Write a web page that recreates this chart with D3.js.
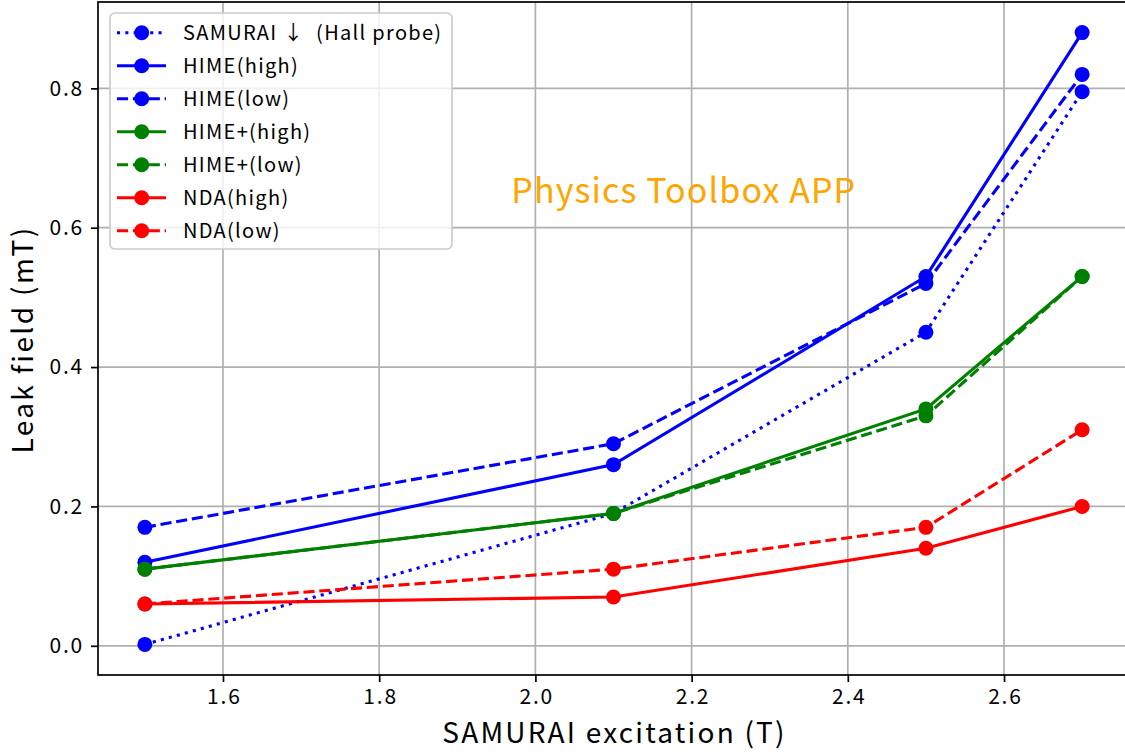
<!DOCTYPE html>
<html>
<head>
<meta charset="utf-8">
<script src="https://cdn.jsdelivr.net/npm/d3@7"></script>
<style>
  body { margin: 0; background: #fff; }
  svg { display: block; }
  text { font-family: "Noto Sans CJK JP", "Noto Sans", sans-serif; }
</style>
</head>
<body>
<div id="chart"></div>
<script>
// excitation values (T)
var excitation = [1.5, 2.1, 2.5, 2.7]

// leak field (mT) per series
var samuraiHall = [0.002, 0.19, 0.45, 0.795]
var himeHigh = [0.12, 0.26, 0.53, 0.88]
var himeLow = [0.17, 0.29, 0.52, 0.82]
var himePlusHigh = [0.11, 0.19, 0.34, 0.53]
var himePlusLow = [0.11, 0.19, 0.33, 0.53]
var ndaHigh = [0.06, 0.07, 0.14, 0.20]
var ndaLow = [0.06, 0.11, 0.17, 0.31]

var seriesNames = ["SAMURAI ↓  (Hall probe)", "HIME(high)", "HIME(low)", "HIME+(high)", "HIME+(low)", "NDA(high)", "NDA(low)"]
var seriesValues = [samuraiHall, himeHigh, himeLow, himePlusHigh, himePlusLow, ndaHigh, ndaLow]
var seriesColors = ["#0000ff", "#0000ff", "#0000ff", "#008000", "#008000", "#ff0000", "#ff0000"]
var seriesStyles = ["dotted", "solid", "dashed", "solid", "dashed", "solid", "dashed"]

var xTicks = [1.6, 1.8, 2.0, 2.2, 2.4, 2.6]
var yTicks = [0.0, 0.2, 0.4, 0.6, 0.8]

var W = 1125, H = 754
var margin = {left: 98, right: -4, top: 2, bottom: 79}

var svg = d3.select('#chart').append('svg')
  .attr('width', W).attr('height', H)

var pw = W - margin.left - margin.right
var ph = H - margin.top - margin.bottom

// matplotlib-like 5% margins
var xScale = d3.scaleLinear().domain([1.44, 2.76]).range([margin.left, margin.left + pw])
var yScale = d3.scaleLinear().domain([-0.0419, 0.9239]).range([margin.top + ph, margin.top])

var dashes = {solid: null, dashed: "11.1,4.8", dotted: "3.1,5.2"}

// grid
var grid = svg.append('g')
grid.selectAll('.gx').data(xTicks).enter().append('line')
  .attr('x1', d => xScale(d)).attr('x2', d => xScale(d))
  .attr('y1', margin.top).attr('y2', margin.top + ph)
  .attr('stroke', '#b0b0b0').attr('stroke-width', 1.7)
grid.selectAll('.gy').data(yTicks).enter().append('line')
  .attr('y1', d => yScale(d)).attr('y2', d => yScale(d))
  .attr('x1', margin.left).attr('x2', margin.left + pw)
  .attr('stroke', '#b0b0b0').attr('stroke-width', 1.7)

// lines + markers
var line = d3.line().x(d => xScale(d[0])).y(d => yScale(d[1]))
seriesValues.forEach(function(vals, i) {
  var pts = excitation.map((x, k) => [x, vals[k]])
  svg.append('path').datum(pts)
    .attr('d', line)
    .attr('fill', 'none')
    .attr('stroke', seriesColors[i])
    .attr('stroke-width', 3.1)
    .attr('stroke-dasharray', dashes[seriesStyles[i]])
  svg.append('g').selectAll('circle').data(pts).enter().append('circle')
    .attr('cx', d => xScale(d[0])).attr('cy', d => yScale(d[1]))
    .attr('r', 7.5).attr('fill', seriesColors[i])
})

// axes
var xAxis = d3.axisBottom(xScale).tickValues(xTicks).tickFormat(d3.format('.1f')).tickSizeOuter(0).tickSize(7).tickPadding(7)
var yAxis = d3.axisLeft(yScale).tickValues(yTicks).tickFormat(d3.format('.1f')).tickSizeOuter(0).tickSize(7).tickPadding(7)

var gx = svg.append('g').attr('transform', 'translate(0,' + (margin.top + ph) + ')').call(xAxis)
var gy = svg.append('g').attr('transform', 'translate(' + margin.left + ',0)').call(yAxis)
;[gx, gy].forEach(function(g) {
  g.select('.domain').remove()
  g.selectAll('line').attr('stroke', '#000').attr('stroke-width', 1.7)
  g.selectAll('text').attr('font-size', 21).attr('fill', '#000')
    .attr('letter-spacing', 1.8)
    .style('font-family', '"Noto Sans CJK JP", sans-serif')
})
gx.selectAll('text').attr('dx', 0.9)

// spines
svg.append('rect')
  .attr('x', margin.left).attr('y', margin.top).attr('width', pw).attr('height', ph)
  .attr('fill', 'none').attr('stroke', '#000').attr('stroke-width', 1.7)

// axis labels
svg.append('text').text('SAMURAI excitation (T)')
  .attr('x', margin.left + pw / 2 + 1).attr('y', 743)
  .attr('text-anchor', 'middle').attr('font-size', 28).attr('letter-spacing', 2.2)
svg.append('text').text('Leak field (mT)')
  .attr('transform', 'translate(33,' + (margin.top + ph / 2 + 1) + ') rotate(-90)')
  .attr('text-anchor', 'middle').attr('font-size', 28).attr('letter-spacing', 2.4)

// annotation
svg.append('text').text('Physics Toolbox APP')
  .attr('x', xScale(2.19)).attr('y', yScale(0.635))
  .attr('text-anchor', 'middle').attr('font-size', 34).attr('fill', '#ffa500')
  .attr('letter-spacing', 1.1)

// legend
var lg = svg.append('g').attr('transform', 'translate(110,13)')
lg.append('rect').attr('width', 342).attr('height', 236).attr('rx', 5)
  .attr('fill', '#fff').attr('fill-opacity', 0.8)
  .attr('stroke', '#cccccc').attr('stroke-width', 1.7)
seriesNames.forEach(function(name, i) {
  var y = 19.7 + i * 33
  var row = lg.append('g').attr('transform', 'translate(0,' + y + ')')
  row.append('line').attr('x1', 7).attr('x2', 56).attr('y1', 0).attr('y2', 0)
    .attr('stroke', seriesColors[i]).attr('stroke-width', 3.1)
    .attr('stroke-dasharray', dashes[seriesStyles[i]])
  row.append('circle').attr('cx', 31.7).attr('cy', 0).attr('r', 7.5).attr('fill', seriesColors[i])
  row.append('text').text(name).attr('x', 73).attr('y', 7)
    .attr('font-size', 20).attr('letter-spacing', 1.3).style('white-space', 'pre')
})
</script>
</body>
</html>
